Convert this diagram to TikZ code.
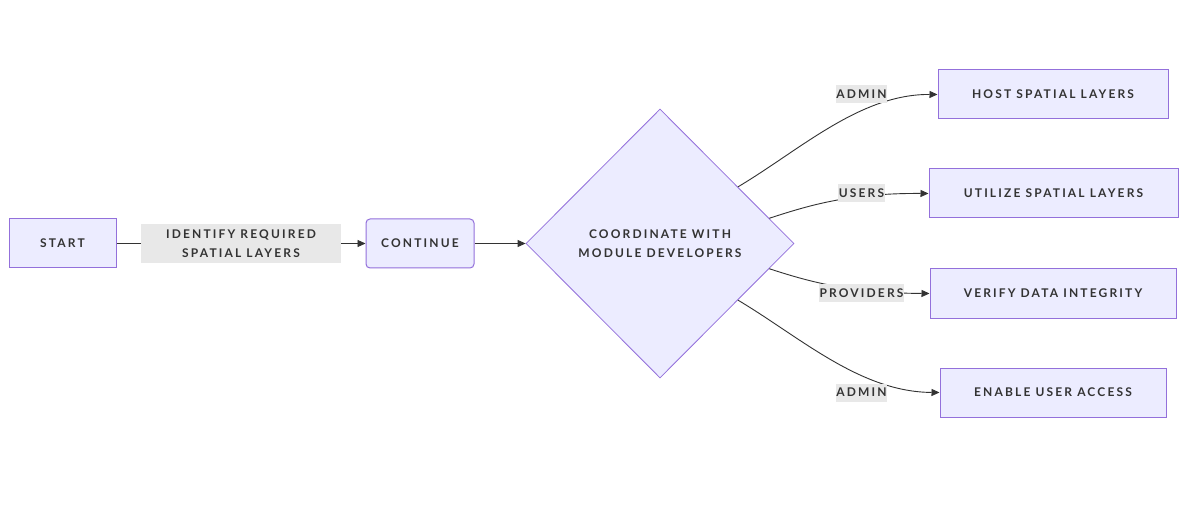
\documentclass[tikz,border=0pt]{standalone}
\usepackage{fontspec}
\setmainfont{Lato}[LetterSpace=18]
\usetikzlibrary{shapes.geometric,arrows.meta}
\definecolor{boxfill}{HTML}{ECECFF}
\definecolor{boxline}{HTML}{9370DB}
\definecolor{labelbg}{HTML}{E8E8E8}
\definecolor{ink}{HTML}{333333}
\begin{document}
\begin{tikzpicture}[x=1pt,y=-1pt,
    every node/.style={font=\fontsize{12}{19.5}\selectfont\bfseries, text=ink},
    box/.style={draw=boxline, fill=boxfill, line width=1pt, minimum height=49pt, inner sep=0pt},
    decision/.style={diamond, draw=boxline, fill=boxfill, line width=0.8pt, aspect=1,
        minimum width=268pt, minimum height=269pt, inner sep=0pt, align=center},
    edgelabel/.style={fill=labelbg, inner sep=0pt, minimum height=18pt, align=center},
    flow/.style={draw=ink, line width=0.9pt, -{Triangle[length=8pt,width=7pt]}}]
    \useasboundingbox [fill=white] (0,0) rectangle (1183,521);
    % nodes
    \node [box, minimum width=107pt] (start) at (62.5,243.5) {START};
    \node [box, minimum width=108pt, rounded corners=4pt] (cont) at (420,243.5) {CONTINUE};
    \node [decision] (coord) at (660,243.5) {COORDINATE WITH\\MODULE DEVELOPERS};
    \node [box, minimum width=230pt] (host) at (1053,94.5) {HOST SPATIAL LAYERS};
    \node [box, minimum width=249pt] (util) at (1053.5,193.5) {UTILIZE SPATIAL LAYERS};
    \node [box, minimum width=246pt] (verify) at (1053,293.5) {VERIFY DATA INTEGRITY};
    \node [box, minimum width=226pt] (enable) at (1053,392.5) {ENABLE USER ACCESS};
    % edges
    \draw [flow] (start.east) -- (cont.west);
    \draw [flow] (cont.east) -- (coord.west);
    \draw [flow] (coord.36.4) .. controls (800,150) and (860,94) .. (host.west);
    \draw [flow] (coord.13.8) .. controls (810,205) and (850,193) .. (util.west);
    \draw [flow] (coord.-13.8) .. controls (810,282) and (850,293) .. (verify.west);
    \draw [flow] (coord.-36.4) .. controls (800,337) and (860,392) .. (enable.west);
    % labels
    \node [edgelabel, minimum width=200pt, minimum height=39pt] (lidentify) at (241,243.5)
        {IDENTIFY REQUIRED\\SPATIAL LAYERS};
    \node [edgelabel, minimum width=49pt] (ladmina) at (861.5,94) {ADMIN};
    \node [edgelabel, minimum width=47pt] (lusers) at (861.5,193.5) {USERS};
    \node [edgelabel, minimum width=85pt] (lprov) at (861.5,293.5) {PROVIDERS};
    \node [edgelabel, minimum width=49pt] (ladminb) at (861.5,392.5) {ADMIN};
\end{tikzpicture}
\end{document}
